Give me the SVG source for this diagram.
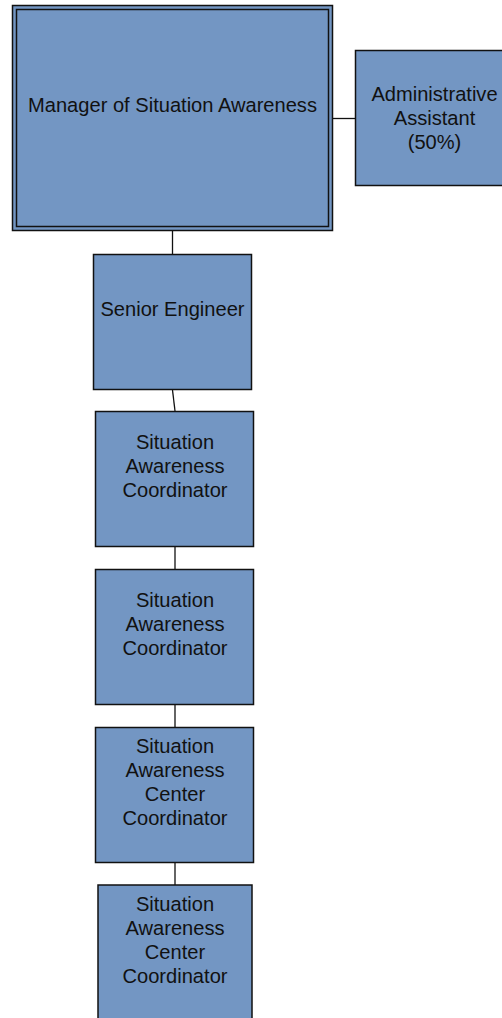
<svg xmlns="http://www.w3.org/2000/svg" width="502" height="1018" viewBox="0 0 502 1018">
<style>
.box{fill:#7396C3;stroke:#111;stroke-width:1.5}
.inner{fill:none;stroke:#111;stroke-width:1.5}
.con{stroke:#111;stroke-width:1.3;fill:none}
text{font-family:"Liberation Sans",Arial,sans-serif;font-size:20.1px;fill:#111;text-anchor:middle}
</style>
<rect width="502" height="1018" fill="#fff"/>
<g id="connectors">
<line class="con" x1="172.5" y1="231" x2="172.5" y2="254"/>
<line class="con" x1="333" y1="118.5" x2="355" y2="118.5"/>
<line class="con" x1="172.5" y1="390" x2="175" y2="411"/>
<line class="con" x1="175" y1="546" x2="175" y2="569"/>
<line class="con" x1="175" y1="704" x2="175" y2="727"/>
<line class="con" x1="175" y1="862" x2="175" y2="885"/>
</g>
<g id="manager">
<rect class="box" x="12.5" y="5.5" width="320" height="225"/>
<rect class="inner" x="16.5" y="9.5" width="312" height="217"/>
<text x="172.5" y="112">Manager of Situation Awareness</text>
</g>
<g id="admin">
<rect class="box" x="355.5" y="50.5" width="160" height="135"/>
<text x="434.5" y="101">Administrative</text>
<text x="434.5" y="125">Assistant</text>
<text x="434.5" y="148.5">(50%)</text>
</g>
<g id="senior">
<rect class="box" x="93.5" y="254.5" width="158" height="135"/>
<text x="172.5" y="316">Senior Engineer</text>
</g>
<g id="coord1">
<rect class="box" x="95.5" y="411.5" width="158" height="135"/>
<text x="175" y="449">Situation</text>
<text x="175" y="473">Awareness</text>
<text x="175" y="497">Coordinator</text>
</g>
<g id="coord2">
<rect class="box" x="95.5" y="569.5" width="158" height="135"/>
<text x="175" y="607">Situation</text>
<text x="175" y="631">Awareness</text>
<text x="175" y="655">Coordinator</text>
</g>
<g id="center1">
<rect class="box" x="95.5" y="727.5" width="158" height="135"/>
<text x="175" y="753">Situation</text>
<text x="175" y="777">Awareness</text>
<text x="175" y="801">Center</text>
<text x="175" y="825">Coordinator</text>
</g>
<g id="center2">
<rect class="box" x="98" y="885" width="154" height="140"/>
<text x="175" y="911">Situation</text>
<text x="175" y="935">Awareness</text>
<text x="175" y="959">Center</text>
<text x="175" y="983">Coordinator</text>
</g>
</svg>
